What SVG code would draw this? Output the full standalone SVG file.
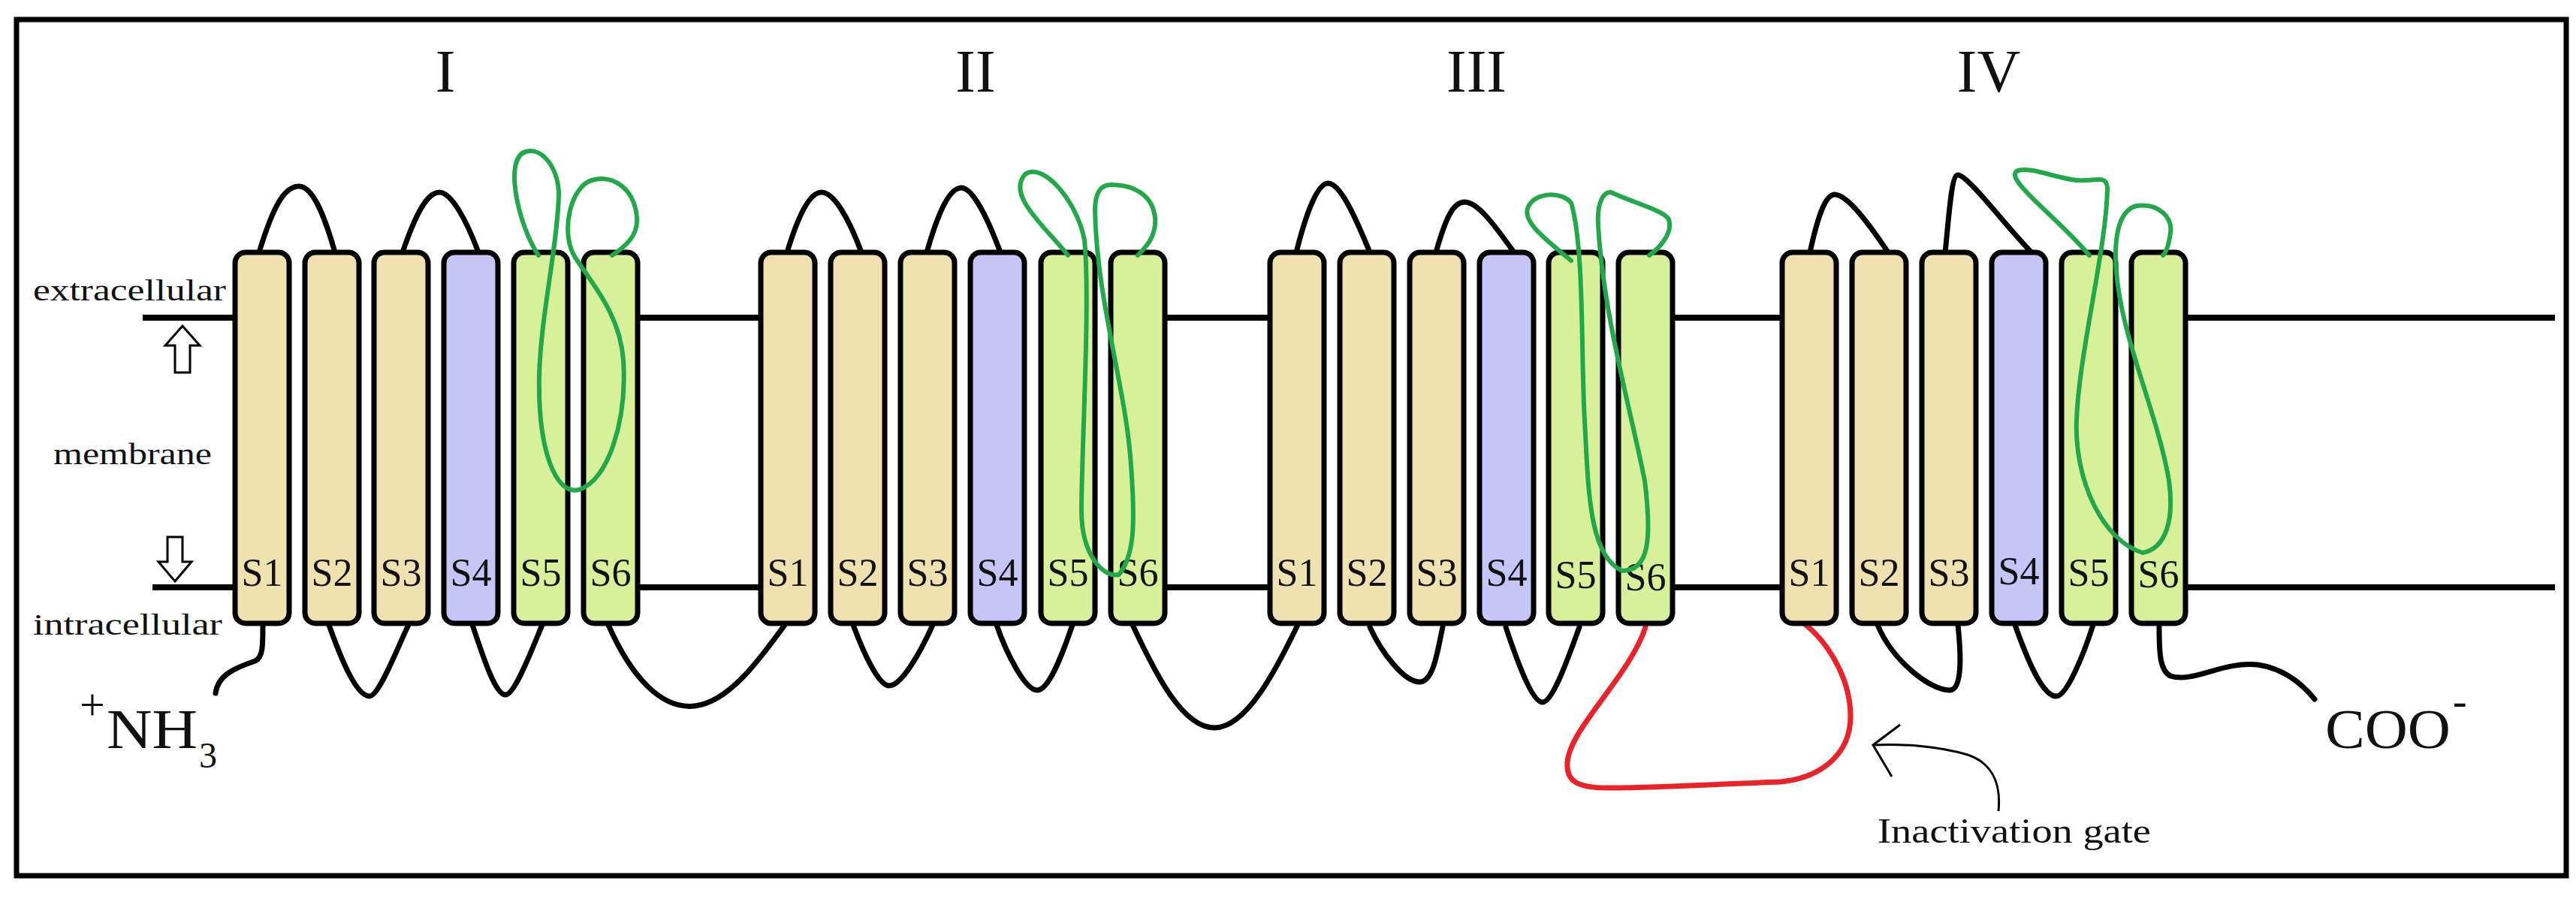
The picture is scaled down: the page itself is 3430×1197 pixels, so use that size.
<svg xmlns="http://www.w3.org/2000/svg" width="3430" height="1197" viewBox="0 0 3430 1197">
<style>
.t{fill:#EFE2B0}.b{fill:#C5C5F7}.g{fill:#D9F09A}
.h rect{stroke:#000;stroke-width:7}
.lbl{font-family:"Liberation Serif",serif;font-size:52px;fill:#111;text-anchor:middle}
.txt{font-family:"Liberation Serif",serif;fill:#111}
.loop{fill:none;stroke:#000;stroke-width:7;stroke-linecap:round}
.sf{fill:none;stroke:#22A84A;stroke-width:6;stroke-linecap:round}
.mem{stroke:#000;stroke-width:8}
</style>
<rect x="22" y="26" width="3395" height="1140" fill="#fff" stroke="#000" stroke-width="7"/>
<g id="membrane" class="mem">
<line x1="190" y1="423" x2="313" y2="423"/><line x1="850" y1="423" x2="1012" y2="423"/><line x1="1551" y1="423" x2="1690" y2="423"/><line x1="2227" y1="423" x2="2371" y2="423"/><line x1="2910" y1="423" x2="3402" y2="423"/>
<line x1="203" y1="782" x2="313" y2="782"/><line x1="850" y1="782" x2="1012" y2="782"/><line x1="1551" y1="782" x2="1690" y2="782"/><line x1="2227" y1="782" x2="2371" y2="782"/><line x1="2910" y1="782" x2="3402" y2="782"/>
</g>
<g id="connectors">
<path class="loop" d="M345,336 C365,270 380,248 398,248 C415,248 430,280 446,336"/>
<path class="loop" d="M536,336 C555,280 570,256 585,256 C600,256 620,290 637,336"/>
<path class="loop" d="M350,832 C350,860 350,875 340,880 C310,890 290,900 287,923"/>
<path class="loop" d="M438,832 C455,880 475,927 492,927 C505,927 530,860 544,832"/>
<path class="loop" d="M629,832 C645,880 660,925 673,925 C686,925 710,860 722,832"/>
<path class="loop" d="M810,832 C840,900 880,945 925,940 C970,935 1010,880 1045,832"/>
<path class="loop" d="M1048,336 C1065,280 1080,256 1094,256 C1110,256 1130,290 1147,336"/>
<path class="loop" d="M1234,336 C1250,280 1265,250 1280,250 C1295,250 1315,290 1332,336"/>
<path class="loop" d="M1136,832 C1150,870 1170,913 1184,913 C1200,913 1225,870 1242,832"/>
<path class="loop" d="M1327,832 C1340,870 1365,919 1381,919 C1397,919 1415,870 1428,832"/>
<path class="loop" d="M1508,832 C1540,900 1575,969 1617,969 C1660,969 1700,890 1728,832"/>
<path class="loop" d="M1726,336 C1740,280 1755,244 1768,244 C1785,244 1805,290 1824,336"/>
<path class="loop" d="M1912,336 C1925,290 1935,269 1950,269 C1968,269 1990,300 2016,336"/>
<path class="loop" d="M1824,835 C1840,870 1870,908 1890,908 C1910,908 1915,860 1921,835"/>
<path class="loop" d="M2005,835 C2020,880 2040,935 2054,935 C2068,935 2090,870 2103,835"/>
<path class="loop" d="M2410,336 C2420,290 2430,259 2443,259 C2460,259 2490,300 2514,336"/>
<path class="loop" d="M2590,336 C2595,290 2598,233 2607,233 C2620,233 2670,300 2705,336"/>
<path class="loop" d="M2500,832 C2520,880 2570,919 2596,919 C2615,919 2610,860 2607,832"/>
<path class="loop" d="M2683,832 C2700,880 2720,927 2738,927 C2752,927 2775,870 2787,832"/>
<path class="loop" d="M2875,835 C2875,870 2876,893 2890,900 C2920,910 2960,880 3006,885 C3040,890 3065,910 3082,931"/>
<path d="M2191,835 C2170,900 2090,970 2087,1015 C2085,1040 2100,1049 2140,1049 C2200,1049 2290,1044 2371,1041 C2430,1035 2464,1000 2464,954 C2464,900 2430,850 2399,828" fill="none" stroke="#E8232A" stroke-width="7" stroke-linecap="round"/>
<path d="M2661,1080 C2665,1040 2650,1015 2620,1005 C2580,993 2530,990 2494,992" fill="none" stroke="#000" stroke-width="3"/>
<path d="M2530,965 L2494,992 L2519,1034" fill="none" stroke="#000" stroke-width="3"/>
</g>
<g id="domainI" class="h">
<rect class="t" x="313" y="336" width="72" height="494" rx="14"/><rect class="t" x="406" y="336" width="72" height="494" rx="14"/><rect class="t" x="498" y="336" width="72" height="494" rx="14"/><rect class="b" x="591" y="336" width="72" height="494" rx="14"/><rect class="g" x="684" y="336" width="72" height="494" rx="14"/><rect class="g" x="777" y="336" width="72" height="494" rx="14"/>
</g>
<g id="domainII" class="h">
<rect class="t" x="1013" y="336" width="72" height="494" rx="14"/><rect class="t" x="1106" y="336" width="72" height="494" rx="14"/><rect class="t" x="1199" y="336" width="72" height="494" rx="14"/><rect class="b" x="1292" y="336" width="72" height="494" rx="14"/><rect class="g" x="1386" y="336" width="72" height="494" rx="14"/><rect class="g" x="1479" y="336" width="72" height="494" rx="14"/>
</g>
<g id="domainIII" class="h">
<rect class="t" x="1691" y="336" width="72" height="494" rx="14"/><rect class="t" x="1784" y="336" width="72" height="494" rx="14"/><rect class="t" x="1877" y="336" width="72" height="494" rx="14"/><rect class="b" x="1970" y="336" width="72" height="494" rx="14"/><rect class="g" x="2062" y="336" width="72" height="494" rx="14"/><rect class="g" x="2155" y="336" width="72" height="494" rx="14"/>
</g>
<g id="domainIV" class="h">
<rect class="t" x="2373" y="336" width="72" height="494" rx="14"/><rect class="t" x="2466" y="336" width="72" height="494" rx="14"/><rect class="t" x="2559" y="336" width="72" height="494" rx="14"/><rect class="b" x="2652" y="336" width="72" height="494" rx="14"/><rect class="g" x="2745" y="336" width="72" height="494" rx="14"/><rect class="g" x="2838" y="336" width="72" height="494" rx="14"/>
</g>
<g id="labels">
<text class="lbl" x="349" y="780">S1</text><text class="lbl" x="442" y="780">S2</text><text class="lbl" x="534" y="780">S3</text><text class="lbl" x="627" y="780">S4</text><text class="lbl" x="720" y="780">S5</text><text class="lbl" x="813" y="780">S6</text>
<text class="lbl" x="1049" y="780">S1</text><text class="lbl" x="1142" y="780">S2</text><text class="lbl" x="1235" y="780">S3</text><text class="lbl" x="1328" y="780">S4</text><text class="lbl" x="1422" y="780">S5</text><text class="lbl" x="1515" y="780">S6</text>
<text class="lbl" x="1727" y="780">S1</text><text class="lbl" x="1820" y="780">S2</text><text class="lbl" x="1913" y="780">S3</text><text class="lbl" x="2006" y="780">S4</text><text class="lbl" x="2098" y="783">S5</text><text class="lbl" x="2191" y="786">S6</text>
<text class="lbl" x="2409" y="780">S1</text><text class="lbl" x="2502" y="780">S2</text><text class="lbl" x="2595" y="780">S3</text><text class="lbl" x="2688" y="778">S4</text><text class="lbl" x="2781" y="780">S5</text><text class="lbl" x="2874" y="782">S6</text>
</g>
<g id="pore-loops">
<path class="sf" d="M717,340 C690,300 670,210 700,202 C725,195 745,230 744,260 C742,330 720,420 718,500 C716,600 740,660 771,652 C810,640 835,560 830,480 C826,420 790,380 766,343 C745,310 760,248 788,240 C815,232 845,250 848,290 C850,315 830,330 815,340"/>
<path class="sf" d="M1422,340 C1390,300 1340,260 1365,232 C1390,215 1435,270 1444,320 C1452,400 1440,600 1440,680 C1440,740 1470,770 1490,765 C1510,740 1512,700 1506,620 C1500,520 1460,400 1458,280 C1458,250 1470,246 1480,246 C1510,246 1535,260 1538,290 C1540,315 1525,330 1515,340"/>
<path class="sf" d="M2092,347 C2060,320 2025,295 2035,275 C2045,255 2080,255 2092,270 C2110,330 2105,480 2110,560 C2115,650 2115,740 2160,760 C2195,760 2200,720 2190,640 C2170,540 2135,420 2128,300 C2126,270 2135,255 2145,256 C2175,270 2215,280 2222,292 C2228,310 2210,330 2196,340"/>
<path class="sf" d="M2782,340 C2740,290 2670,240 2685,228 C2700,220 2740,238 2765,240 C2790,242 2805,232 2806,250 C2805,330 2768,470 2765,560 C2762,640 2800,720 2853,736 C2885,730 2895,690 2888,640 C2875,560 2830,460 2820,380 C2812,320 2820,280 2845,274 C2875,270 2893,290 2890,310 C2888,325 2885,335 2880,340"/>
</g>
<g id="text">
<text class="txt" x="593" y="122" font-size="80" text-anchor="middle">I</text>
<text class="txt" x="1299" y="122" font-size="80" text-anchor="middle">II</text>
<text class="txt" x="1966" y="122" font-size="80" text-anchor="middle">III</text>
<text class="txt" x="2648" y="122" font-size="80" text-anchor="middle">IV</text>
<text class="txt" x="44" y="400" font-size="40" textLength="257" lengthAdjust="spacingAndGlyphs">extracellular</text>
<text class="txt" x="71" y="618" font-size="40" textLength="211" lengthAdjust="spacingAndGlyphs">membrane</text>
<text class="txt" x="44" y="845" font-size="40" textLength="252" lengthAdjust="spacingAndGlyphs">intracellular</text>
<text class="txt" x="106" y="958" font-size="60">+</text>
<text class="txt" x="142" y="996" font-size="75" textLength="121" lengthAdjust="spacingAndGlyphs">NH</text>
<text class="txt" x="265" y="1022" font-size="48">3</text>
<text class="txt" x="3096" y="996" font-size="75" textLength="167" lengthAdjust="spacingAndGlyphs">COO</text>
<text class="txt" x="3266" y="952" font-size="56">-</text>
<text class="txt" x="2500" y="1122" font-size="46" textLength="364" lengthAdjust="spacingAndGlyphs">Inactivation gate</text>
</g>
<g id="arrows" fill="#fff" stroke="#000" stroke-width="3">
<path d="M243,434 L266,460 L253,460 L253,496 L233,496 L233,460 L220,460 Z"/>
<path d="M233,774 L255,748 L243,748 L243,715 L223,715 L223,748 L211,748 Z"/>
</g>
</svg>
